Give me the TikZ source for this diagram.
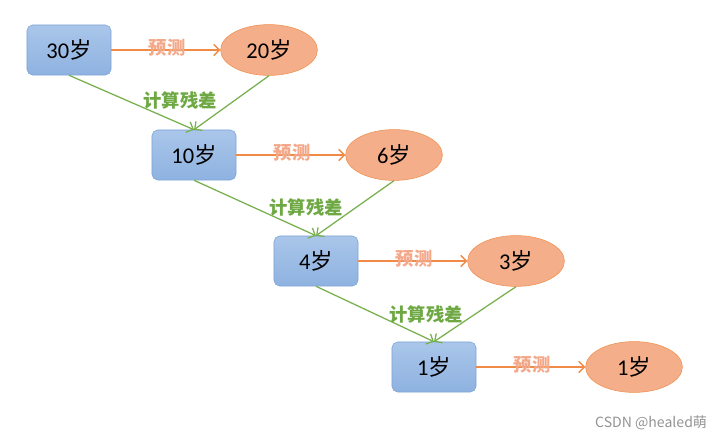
\documentclass[tikz,border=0pt]{standalone}
\usepackage{fontspec}
\setmainfont{Carlito}
\newfontfamily\cjk{Noto Sans CJK SC}
\usetikzlibrary{arrows.meta,shapes.geometric}

\definecolor{boxline}{HTML}{7EA4D6}
\definecolor{boxtop}{HTML}{AAC6EA}
\definecolor{boxbot}{HTML}{8EB2E0}
\definecolor{ellline}{HTML}{F0904F}
\definecolor{ellfill}{HTML}{F5AE8A}
\definecolor{predline}{HTML}{F08A45}
\definecolor{predtext}{HTML}{F4A88A}
\definecolor{residline}{HTML}{78B04E}
\definecolor{residtext}{HTML}{6EA843}

\begin{document}
\begin{tikzpicture}[x=0.025cm, y=-0.025cm,
	agebox/.style={draw=boxline, rounded corners=4pt, top color=boxtop, bottom color=boxbot,
		minimum width=2.1cm, minimum height=1.25cm, font=\fontsize{16}{18}\selectfont},
	guessell/.style={ellipse, draw=ellline, fill=ellfill, minimum width=2.42cm,
		minimum height=1.27cm, font=\fontsize{16}{18}\selectfont},
	predarrow/.style={draw=predline, line width=1pt, -{Straight Barb[length=4pt,width=8pt]}},
	residarrow/.style={draw=residline, line width=0.9pt, -{Straight Barb[length=4pt,width=8pt]}},
	predlbl/.style={text=predtext, font=\cjk\bfseries\fontsize{13}{14}\selectfont},
	residlbl/.style={text=residtext, font=\cjk\bfseries\fontsize{13}{14}\selectfont}]
	
	\useasboundingbox (0,0) rectangle (726,439);
	
	% Boxes and predictions
	\foreach \i/\bx/\by/\bt/\et in {1/69/50/30/20, 2/194/155/10/6, 3/316/261/4/3, 4/434/367/1/1} {
		\node[agebox] (b\i) at (\bx,\by) {\bt{\cjk 岁}};
		\node[guessell] (e\i) at (\bx+200,\by) {\et{\cjk 岁}};
		\draw[predarrow] (b\i) -- node[predlbl, xshift=1pt, yshift=1.5pt] (p\i) {预测} (e\i);
	}
	
	% Residuals
	\foreach \i/\j/\lx/\ly in {1/2/180/101, 2/3/306/208, 3/4/426/314} {
		\draw[residarrow] (b\i.south) -- (b\j.north);
		\draw[residarrow] (e\i.south) -- (b\j.north);
		\node[residlbl] (r\i) at (\lx,\ly) {计算残差};
	}
	
	\node[text=gray!85, font=\cjk\fontsize{10}{12}\selectfont, anchor=east] (mark) at (712,423) {CSDN @healed萌};
\end{tikzpicture}
\end{document}
